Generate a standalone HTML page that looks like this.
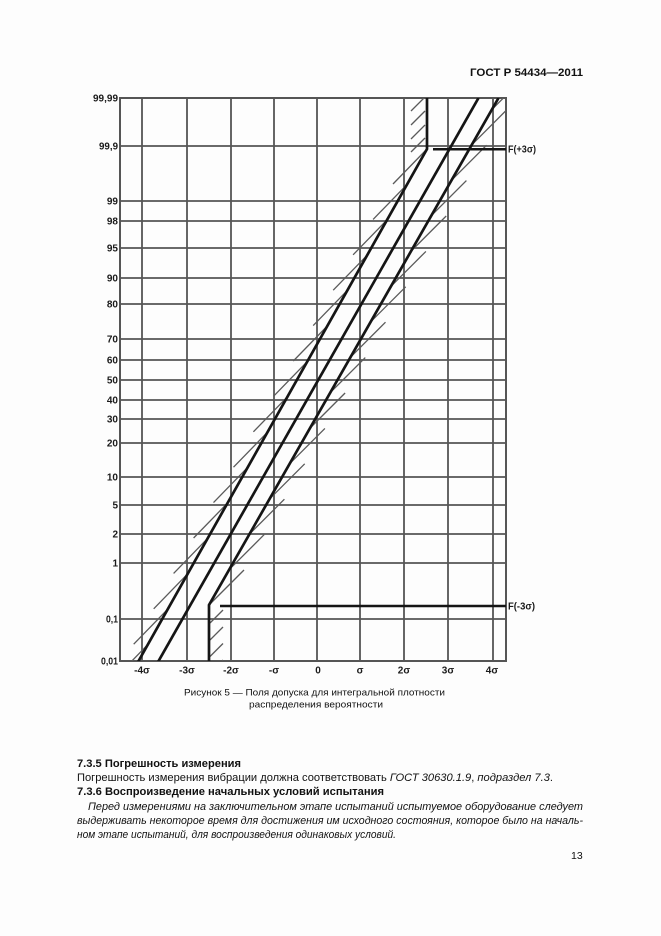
<!DOCTYPE html>
<html>
<head>
<meta charset="utf-8">
<style>
  html,body{margin:0;padding:0;background:#fdfdfd;}
  svg{display:block;}
  .lbl{font-family:"Liberation Sans",Arial,sans-serif;font-weight:bold;font-size:10px;fill:#1a1a1a;}
  .txt{font-family:"Liberation Sans","Noto Sans CJK SC",Arial,sans-serif;fill:#111;}
</style>
</head>
<body>
<svg width="661" height="936" viewBox="0 0 661 936" xmlns="http://www.w3.org/2000/svg">
  <rect x="0" y="0" width="661" height="936" fill="#fdfdfd"/>

  <!-- Header -->
  <text class="txt" x="470" y="76" font-size="11" font-weight="bold" textLength="113" lengthAdjust="spacingAndGlyphs">ГОСТ Р 54434—2011</text>

  <defs>
    <clipPath id="plot">
      <rect x="120" y="98" width="386" height="563"/>
    </clipPath>
  </defs>

  <!-- Grid -->
  <g stroke="#555" stroke-width="1.8" fill="none">
    <line x1="120" y1="146" x2="506" y2="146"/>
    <line x1="120" y1="201" x2="506" y2="201"/>
    <line x1="120" y1="221" x2="506" y2="221"/>
    <line x1="120" y1="248" x2="506" y2="248"/>
    <line x1="120" y1="278" x2="506" y2="278"/>
    <line x1="120" y1="304" x2="506" y2="304"/>
    <line x1="120" y1="339" x2="506" y2="339"/>
    <line x1="120" y1="360" x2="506" y2="360"/>
    <line x1="120" y1="380" x2="506" y2="380"/>
    <line x1="120" y1="400" x2="506" y2="400"/>
    <line x1="120" y1="419" x2="506" y2="419"/>
    <line x1="120" y1="443" x2="506" y2="443"/>
    <line x1="120" y1="477" x2="506" y2="477"/>
    <line x1="120" y1="505" x2="506" y2="505"/>
    <line x1="120" y1="534" x2="506" y2="534"/>
    <line x1="120" y1="563" x2="506" y2="563"/>
    <line x1="120" y1="619" x2="506" y2="619"/>
    <line x1="142" y1="98" x2="142" y2="661"/>
    <line x1="187" y1="98" x2="187" y2="661"/>
    <line x1="231" y1="98" x2="231" y2="661"/>
    <line x1="274" y1="98" x2="274" y2="661"/>
    <line x1="317" y1="98" x2="317" y2="661"/>
    <line x1="360" y1="98" x2="360" y2="661"/>
    <line x1="404" y1="98" x2="404" y2="661"/>
    <line x1="448" y1="98" x2="448" y2="661"/>
    <line x1="493" y1="98" x2="493" y2="661"/>
    <rect x="120" y="98" width="386" height="563" stroke-width="2"/>
  </g>

  <!-- Hatching -->
  <g clip-path="url(#plot)" stroke="#5a5a5a" stroke-width="1.3" fill="none">
    <line x1="427.0" y1="149.0" x2="393.0" y2="184.0"/>
    <line x1="407.1" y1="184.4" x2="373.1" y2="219.4"/>
    <line x1="387.1" y1="219.8" x2="353.1" y2="254.8"/>
    <line x1="367.2" y1="255.2" x2="333.2" y2="290.2"/>
    <line x1="347.2" y1="290.6" x2="313.2" y2="325.6"/>
    <line x1="327.3" y1="326.0" x2="293.3" y2="361.0"/>
    <line x1="307.4" y1="361.4" x2="273.4" y2="396.4"/>
    <line x1="287.4" y1="396.8" x2="253.4" y2="431.8"/>
    <line x1="267.5" y1="432.2" x2="233.5" y2="467.2"/>
    <line x1="247.5" y1="467.6" x2="213.5" y2="502.6"/>
    <line x1="227.6" y1="503.0" x2="193.6" y2="538.0"/>
    <line x1="207.6" y1="538.4" x2="173.6" y2="573.4"/>
    <line x1="187.7" y1="573.8" x2="153.7" y2="608.8"/>
    <line x1="167.7" y1="609.2" x2="133.7" y2="644.2"/>
    <line x1="147.8" y1="644.6" x2="113.8" y2="679.6"/>
    <line x1="411" y1="111" x2="425" y2="97"/>
    <line x1="411" y1="125" x2="425" y2="111"/>
    <line x1="411" y1="139" x2="425" y2="125"/>
    <line x1="411" y1="152" x2="425" y2="138"/>
    <line x1="209.0" y1="605.0" x2="244.0" y2="570.0"/>
    <line x1="229.2" y1="569.6" x2="264.2" y2="534.6"/>
    <line x1="249.4" y1="534.2" x2="284.4" y2="499.2"/>
    <line x1="269.7" y1="498.8" x2="304.7" y2="463.8"/>
    <line x1="289.9" y1="463.4" x2="324.9" y2="428.4"/>
    <line x1="310.1" y1="428.0" x2="345.1" y2="393.0"/>
    <line x1="330.3" y1="392.6" x2="365.3" y2="357.6"/>
    <line x1="350.5" y1="357.2" x2="385.5" y2="322.2"/>
    <line x1="370.7" y1="321.8" x2="405.7" y2="286.8"/>
    <line x1="390.9" y1="286.4" x2="425.9" y2="251.4"/>
    <line x1="411.2" y1="251.0" x2="446.2" y2="216.0"/>
    <line x1="431.4" y1="215.6" x2="466.4" y2="180.6"/>
    <line x1="451.6" y1="180.2" x2="486.6" y2="145.2"/>
    <line x1="471.8" y1="144.8" x2="506.8" y2="109.8"/>
    <line x1="492.0" y1="109.4" x2="527.0" y2="74.4"/>
    <line x1="210" y1="623" x2="223" y2="610"/>
    <line x1="210" y1="640" x2="223" y2="627"/>
    <line x1="210" y1="656.5" x2="223" y2="643.5"/>
    <line x1="210" y1="673" x2="223" y2="660"/>
  </g>

  <!-- Thick lines -->
  <g clip-path="url(#plot)" stroke="#151515" stroke-width="2.7" fill="none" stroke-linecap="butt">
    <polyline points="138,662 427,149 427,97"/>
    <line x1="158" y1="662" x2="478.5" y2="98"/>
    <polyline points="209,662 209,605 498.5,98"/>
  </g>
  <g stroke="#151515" stroke-width="2.5">
    <line x1="433" y1="149.3" x2="506" y2="149.3"/>
    <line x1="220" y1="606" x2="506" y2="606"/>
  </g>

  <!-- Y labels -->
  <g class="lbl" text-anchor="end">
    <text x="118" y="101.5" textLength="25" lengthAdjust="spacingAndGlyphs">99,99</text>
    <text x="118" y="149.5" textLength="19" lengthAdjust="spacingAndGlyphs">99,9</text>
    <text x="118" y="204.5">99</text>
    <text x="118" y="224.5">98</text>
    <text x="118" y="251.5">95</text>
    <text x="118" y="281.5">90</text>
    <text x="118" y="307.5">80</text>
    <text x="118" y="342.5">70</text>
    <text x="118" y="363.5">60</text>
    <text x="118" y="383.5">50</text>
    <text x="118" y="403.5">40</text>
    <text x="118" y="422.5">30</text>
    <text x="118" y="446.5">20</text>
    <text x="118" y="480.5">10</text>
    <text x="118" y="508.5">5</text>
    <text x="118" y="537.5">2</text>
    <text x="118" y="566.5">1</text>
    <text x="118" y="622.5" textLength="12" lengthAdjust="spacingAndGlyphs">0,1</text>
    <text x="118" y="664.5" textLength="17" lengthAdjust="spacingAndGlyphs">0,01</text>
  </g>

  <!-- X labels -->
  <g class="lbl" text-anchor="middle">
    <text x="142" y="673.5">-4σ</text>
    <text x="187" y="673.5">-3σ</text>
    <text x="231" y="673.5">-2σ</text>
    <text x="274" y="673.5">-σ</text>
    <text x="318" y="673.5">0</text>
    <text x="360" y="673.5">σ</text>
    <text x="404" y="673.5">2σ</text>
    <text x="448" y="673.5">3σ</text>
    <text x="492" y="673.5">4σ</text>
  </g>

  <!-- F labels -->
  <text class="lbl" x="508" y="152.5" textLength="28" lengthAdjust="spacingAndGlyphs">F(+3σ)</text>
  <text class="lbl" x="508" y="609.5" textLength="27" lengthAdjust="spacingAndGlyphs">F(-3σ)</text>

  <!-- Caption -->
  <text class="txt" x="184" y="695.5" font-size="9.5" textLength="261" lengthAdjust="spacingAndGlyphs">Рисунок 5 — Поля допуска для интегральной плотности</text>
  <text class="txt" x="249" y="707.5" font-size="9.5" textLength="134" lengthAdjust="spacingAndGlyphs">распределения вероятности</text>

  <!-- Body text -->
  <text class="txt" x="77" y="767" font-size="11" font-weight="bold" textLength="164" lengthAdjust="spacingAndGlyphs">7.3.5  Погрешность измерения</text>
  <text class="txt" x="77" y="781" font-size="11" textLength="476" lengthAdjust="spacingAndGlyphs">Погрешность измерения вибрации должна соответствовать <tspan font-style="italic">ГОСТ 30630.1.9</tspan>, <tspan font-style="italic">подраздел 7.3</tspan>.</text>
  <text class="txt" x="77" y="795" font-size="11" font-weight="bold" textLength="307" lengthAdjust="spacingAndGlyphs">7.3.6  Воспроизведение начальных условий испытания</text>
  <text class="txt" x="88" y="810" font-size="11" font-style="italic" textLength="495" lengthAdjust="spacingAndGlyphs">Перед измерениями на заключительном этапе испытаний испытуемое оборудование следует</text>
  <text class="txt" x="77" y="824" font-size="11" font-style="italic" textLength="506" lengthAdjust="spacingAndGlyphs">выдерживать некоторое время для достижения им исходного состояния, которое было на началь-</text>
  <text class="txt" x="77" y="838" font-size="11" font-style="italic" textLength="319" lengthAdjust="spacingAndGlyphs">ном этапе испытаний, для воспроизведения одинаковых условий.</text>

  <text class="txt" x="571" y="859" font-size="10.5">13</text>
</svg>
</body>
</html>
